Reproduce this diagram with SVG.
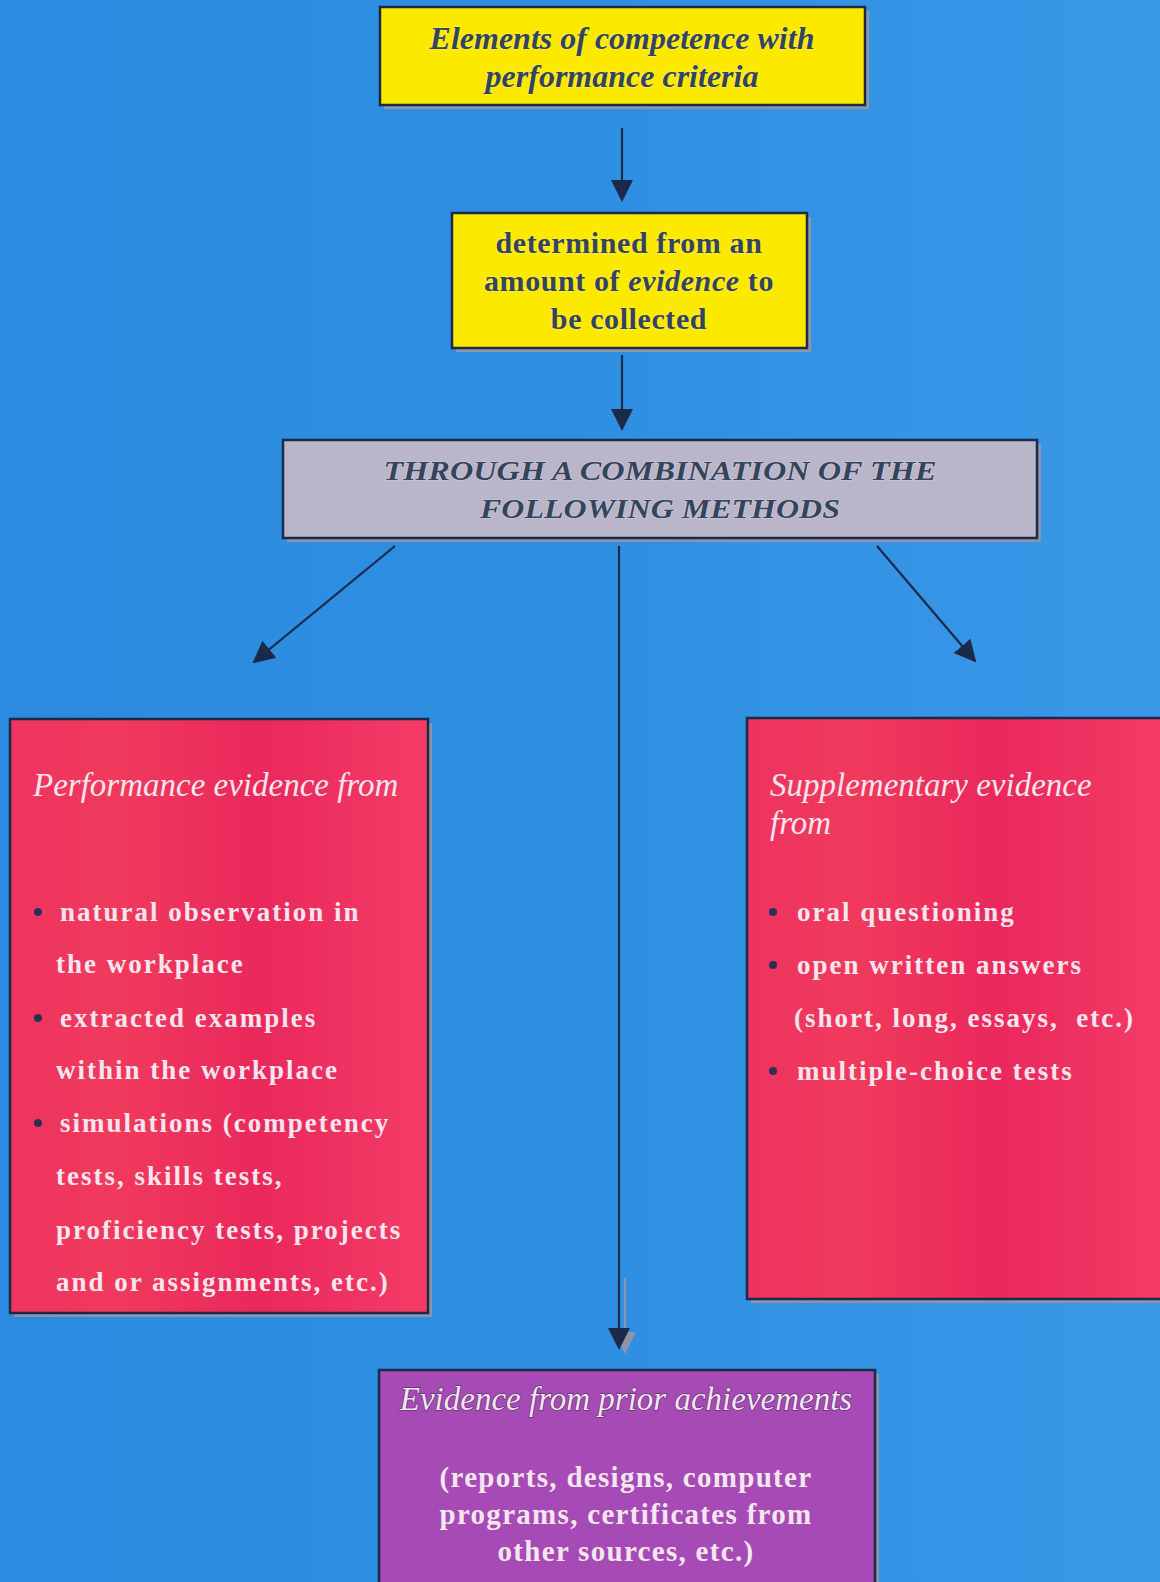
<svg xmlns="http://www.w3.org/2000/svg" width="1160" height="1582" viewBox="0 0 1160 1582">
<defs>
<linearGradient id="bg" x1="0" y1="0" x2="1" y2="0">
<stop offset="0" stop-color="#2b8be0"/>
<stop offset="0.5" stop-color="#2e8fe2"/>
<stop offset="1" stop-color="#3a98e8"/>
</linearGradient>
<linearGradient id="red" x1="0" y1="0" x2="1" y2="0">
<stop offset="0" stop-color="#ee3360"/>
<stop offset="0.25" stop-color="#f03a5c"/>
<stop offset="0.6" stop-color="#ea285c"/>
<stop offset="1" stop-color="#f43c66"/>
</linearGradient>
<marker id="ah" markerUnits="userSpaceOnUse" markerWidth="22" markerHeight="24" refX="20" refY="11" orient="auto" viewBox="0 0 22 22">
<path d="M0,0 L22,11 L0,22 z" fill="#1b2a48"/>
</marker>
<marker id="ahs" markerUnits="userSpaceOnUse" markerWidth="22" markerHeight="24" refX="20" refY="11" orient="auto" viewBox="0 0 22 22">
<path d="M0,0 L22,11 L0,22 z" fill="#8e95a8"/>
</marker>
</defs>
<style>
.shadow{fill:#8e95a8}
.box{stroke:#1b2a48;stroke-width:2.5}
.dark{font-family:"Liberation Serif","Times New Roman",serif;fill:#34445c;font-weight:bold;text-anchor:middle}
.hi{stroke:#ffffff;stroke-width:1.2;stroke-opacity:0.35;paint-order:stroke}
.light{font-family:"Liberation Serif","Times New Roman",serif;fill:#f4e6ee}
.head{font-style:italic;font-size:33px}
.bul{font-family:"Liberation Serif","Times New Roman",serif;fill:#f4e6ee;font-weight:bold;font-size:27px;letter-spacing:2px}
.pb{font-weight:bold;font-size:29px;letter-spacing:1.3px;text-anchor:middle}
.dot{fill:#2a2f55}
.line{stroke:#1b2a48;stroke-width:2.2;fill:none}
</style>
<rect width="1160" height="1582" fill="url(#bg)"/>

<g id="connectors">
<line class="line" x1="622" y1="128" x2="622" y2="200" marker-end="url(#ah)"/>
<line class="line" x1="622" y1="355" x2="622" y2="429" marker-end="url(#ah)"/>
<line class="line" x1="395" y1="546" x2="254" y2="662" marker-end="url(#ah)"/>
<line class="line" x1="877" y1="546" x2="975" y2="661" marker-end="url(#ah)"/>
<line x1="625" y1="1278" x2="625" y2="1352" stroke="#8e95a8" stroke-width="2.2" marker-end="url(#ahs)"/>
<line class="line" x1="619" y1="546" x2="619" y2="1348" marker-end="url(#ah)"/>
</g>

<g id="box-elements">
<rect class="shadow" x="384" y="11" width="485" height="98"/>
<rect class="box" x="380" y="7" width="485" height="98" fill="#fbe900"/>
<text class="dark hi" font-style="italic" font-size="32" x="622" y="49">Elements of competence with</text>
<text class="dark hi" font-style="italic" font-size="32" x="622" y="87">performance criteria</text>
</g>

<g id="box-determined">
<rect class="shadow" x="456" y="217" width="355" height="135"/>
<rect class="box" x="452" y="213" width="355" height="135" fill="#fbe900"/>
<text class="dark hi" font-size="30" letter-spacing="0.6" x="629" y="253">determined from an</text>
<text class="dark hi" font-size="30" letter-spacing="0.6" x="629" y="291">amount of <tspan font-style="italic">evidence</tspan> to</text>
<text class="dark hi" font-size="30" letter-spacing="0.6" x="629" y="329">be collected</text>
</g>

<g id="box-methods">
<rect class="shadow" x="287" y="444" width="754" height="98"/>
<rect class="box" x="283" y="440" width="754" height="98" fill="#bab5c9"/>
<text class="dark hi" font-style="italic" font-size="28" x="660" y="480" textLength="553" lengthAdjust="spacingAndGlyphs">THROUGH A COMBINATION OF THE</text>
<text class="dark hi" font-style="italic" font-size="28" x="660" y="518" textLength="360" lengthAdjust="spacingAndGlyphs">FOLLOWING METHODS</text>
</g>

<g id="box-performance">
<rect class="shadow" x="14" y="723" width="418" height="594"/>
<rect class="box" x="10" y="719" width="418" height="594" fill="url(#red)"/>
<text class="light head" x="33" y="796">Performance evidence from</text>
<circle class="dot" cx="38" cy="912" r="4"/>
<text class="bul" x="60" y="921">natural observation in</text>
<text class="bul" x="56" y="973">the workplace</text>
<circle class="dot" cx="38" cy="1018" r="4"/>
<text class="bul" x="60" y="1027">extracted examples</text>
<text class="bul" x="56" y="1079">within the workplace</text>
<circle class="dot" cx="38" cy="1123" r="4"/>
<text class="bul" x="60" y="1132">simulations (competency</text>
<text class="bul" x="56" y="1185">tests, skills tests,</text>
<text class="bul" x="56" y="1239">proficiency tests, projects</text>
<text class="bul" x="56" y="1291">and or assignments, etc.)</text>
</g>

<g id="box-supplementary">
<rect class="shadow" x="751" y="722" width="413" height="581"/>
<rect class="box" x="747" y="718" width="420" height="581" fill="url(#red)"/>
<text class="light head" x="770" y="796">Supplementary evidence</text>
<text class="light head" x="770" y="834">from</text>
<circle class="dot" cx="773" cy="912" r="4"/>
<text class="bul" x="797" y="921">oral questioning</text>
<circle class="dot" cx="773" cy="965" r="4"/>
<text class="bul" x="797" y="974">open written answers</text>
<text class="bul" x="794" y="1027" xml:space="preserve">(short, long, essays,  etc.)</text>
<circle class="dot" cx="773" cy="1071" r="4"/>
<text class="bul" x="797" y="1080">multiple-choice tests</text>
</g>

<g id="box-prior">
<rect class="shadow" x="383" y="1374" width="496" height="212"/>
<rect class="box" x="379" y="1370" width="496" height="214" fill="#a64ab5"/>
<text class="light head" x="626" y="1410" text-anchor="middle" stroke="#2a2440" stroke-width="1.4" stroke-opacity="0.6" paint-order="stroke">Evidence from prior achievements</text>
<text class="light pb" x="626" y="1487">(reports, designs, computer</text>
<text class="light pb" x="626" y="1524">programs, certificates from</text>
<text class="light pb" x="626" y="1561">other sources, etc.)</text>
</g>
</svg>
